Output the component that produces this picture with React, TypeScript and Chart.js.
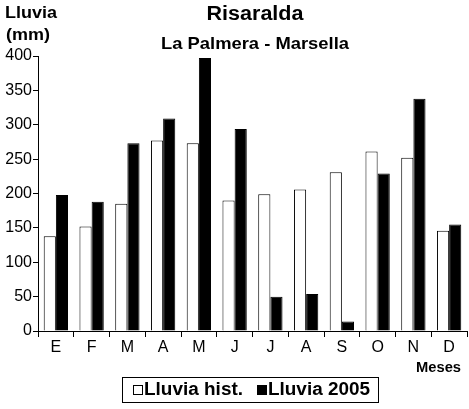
import React, { useEffect, useRef } from "react";
import { Chart, registerables } from "chart.js";

Chart.register(...registerables);

const months = ["E", "F", "M", "A", "M", "J", "J", "A", "S", "O", "N", "D"];
const lluviaHist = [138, 152, 185, 277, 273, 190, 199, 206, 231, 261, 252, 146];
const lluvia2005 = [198, 188, 273, 309, 397, 294, 50, 54, 14, 229, 338, 155];
const seriesNames = ["Lluvia hist.", "Lluvia 2005"];
const chartTitle = "Risaralda";
const chartSubtitle = "La Palmera - Marsella";
const yTitle = ["Lluvia", "(mm)"];
const xTitle = "Meses";

const FAMILY = "'Liberation Sans', Arial, sans-serif";

function drawFitText(
  ctx: CanvasRenderingContext2D,
  text: string,
  x: number,
  y: number,
  font: string,
  align: "left" | "center" | "right",
  targetWidth?: number
) {
  ctx.save();
  ctx.font = font;
  ctx.fillStyle = "#000";
  ctx.textBaseline = "middle";
  const w = ctx.measureText(text).width;
  const sx = targetWidth ? targetWidth / w : 1;
  let left = x;
  const realW = w * sx;
  if (align === "center") left = x - realW / 2;
  else if (align === "right") left = x - realW;
  ctx.translate(left, y);
  ctx.scale(sx, 1);
  ctx.textAlign = "left";
  ctx.fillText(text, 0, 0);
  ctx.restore();
}

const textPlugin = {
  id: "textPlugin",
  afterDraw(chart: any) {
    const ctx: CanvasRenderingContext2D = chart.ctx;
    drawFitText(ctx, chartTitle, 255, 14, `bold 20px ${FAMILY}`, "center", 97);
    drawFitText(ctx, chartSubtitle, 255, 44, `bold 17px ${FAMILY}`, "center", 188);
    drawFitText(ctx, yTitle[0], 5, 13, `bold 17px ${FAMILY}`, "left", 52);
    drawFitText(ctx, yTitle[1], 6, 35, `bold 17px ${FAMILY}`, "left", 44);
    drawFitText(ctx, xTitle, 461, 368, `bold 15px ${FAMILY}`, "right", 45);

    // legend
    ctx.save();
    ctx.strokeStyle = "#000";
    ctx.lineWidth = 1;
    ctx.strokeRect(122.5, 377.5, 256, 25);
    ctx.fillStyle = "#fff";
    ctx.fillRect(133.5, 385.5, 9, 9);
    ctx.strokeRect(133.5, 385.5, 9, 9);
    ctx.fillStyle = "#000";
    ctx.fillRect(257, 385, 10, 10);
    ctx.restore();
    drawFitText(ctx, seriesNames[0], 144, 390, `bold 18px ${FAMILY}`, "left", 99);
    drawFitText(ctx, seriesNames[1], 268, 390, `bold 18px ${FAMILY}`, "left", 102);
  },
};

export default function App() {
  const ref = useRef<HTMLCanvasElement | null>(null);
  useEffect(() => {
    if (!ref.current) return;
    const chart = new Chart(ref.current, {
      type: "bar",
      data: {
        labels: months,
        datasets: [
          {
            label: seriesNames[0],
            data: lluviaHist,
            backgroundColor: "#fff",
            borderColor: "#000",
            borderWidth: 1,
            categoryPercentage: 0.68,
            barPercentage: 1,
          },
          {
            label: seriesNames[1],
            data: lluvia2005,
            backgroundColor: "#000",
            borderColor: "#000",
            borderWidth: 1,
            categoryPercentage: 0.68,
            barPercentage: 1,
          },
        ],
      },
      options: {
        responsive: false,
        animation: false,
        layout: { padding: { top: 56, right: 2, left: 0, bottom: 0 } },
        plugins: {
          legend: { display: false },
          title: { display: false },
          tooltip: { enabled: false },
        },
        scales: {
          x: {
            offset: true,
            grid: {
              display: true,
              offset: true,
              drawOnChartArea: false,
              drawTicks: true,
              tickLength: 6,
              color: "#000",
            },
            border: { display: true, color: "#000", width: 1 },
            ticks: {
              color: "#000",
              font: { family: FAMILY, size: 16 },
              padding: 1,
              maxRotation: 0,
            },
            afterFit: (s: any) => {
              s.height = 78;
            },
          },
          y: {
            min: 0,
            max: 400,
            grid: {
              display: true,
              drawOnChartArea: false,
              drawTicks: true,
              tickLength: 5,
              color: "#000",
            },
            border: { display: true, color: "#000", width: 1 },
            ticks: {
              stepSize: 50,
              color: "#000",
              font: { family: FAMILY, size: 16 },
              padding: 1,
            },
            afterFit: (s: any) => {
              s.width = 38;
            },
          },
        },
      },
      plugins: [textPlugin],
    });
    return () => chart.destroy();
  }, []);
  return (
    <div style={{ position: "absolute", left: 0, top: 0, width: 469, height: 409, background: "#fff" }}>
      <canvas ref={ref} width={469} height={409} style={{ display: "block" }} />
    </div>
  );
}
